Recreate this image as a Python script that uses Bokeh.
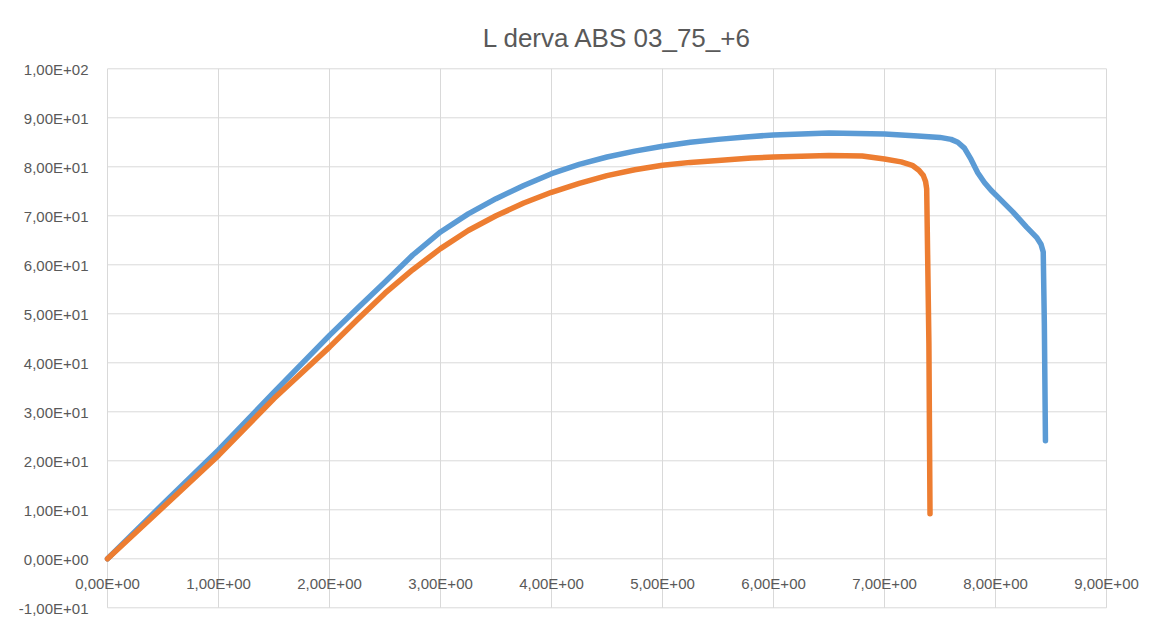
from bokeh.plotting import figure
from bokeh.models import Range1d, LabelSet, Label, ColumnDataSource
from bokeh.core.properties import value
from bokeh.embed import file_html
from bokeh.resources import INLINE

# ---- data ----
blue_x = [0.0, 0.5, 1.0, 1.5, 2.0, 2.25, 2.5, 2.75, 3.0, 3.25, 3.5, 3.75, 4.0, 4.25, 4.5,
          4.75, 5.0, 5.25, 5.5, 5.75, 6.0, 6.5, 7.0, 7.3, 7.5, 7.6, 7.66, 7.72, 7.78,
          7.84, 7.9, 7.96, 8.05, 8.16, 8.28, 8.37, 8.41, 8.43, 8.44, 8.45]
blue_y = [0.0, 11.2, 22.2, 34.0, 45.6, 51.1, 56.5, 62.0, 66.7, 70.4, 73.5, 76.2, 78.6, 80.5, 82.0,
          83.2, 84.2, 85.0, 85.6, 86.1, 86.5, 86.9, 86.7, 86.3, 86.0, 85.6, 85.0, 83.8, 81.5,
          78.8, 76.8, 75.2, 73.2, 70.7, 67.7, 65.6, 64.2, 62.6, 48.0, 24.1]

orange_x = [0.0, 0.5, 1.0, 1.5, 2.0, 2.25, 2.5, 2.75, 3.0, 3.25, 3.5, 3.75, 4.0, 4.25, 4.5, 4.75,
            5.0, 5.25, 5.5, 5.8, 6.0, 6.5, 6.8, 7.0, 7.15, 7.25, 7.31, 7.35, 7.37, 7.38,
            7.40, 7.41]
orange_y = [0.0, 10.5, 21.1, 32.7, 43.2, 48.8, 54.2, 59.0, 63.3, 67.0, 70.0, 72.6, 74.8, 76.6, 78.2, 79.4,
            80.3, 80.9, 81.3, 81.8, 82.0, 82.3, 82.2, 81.6, 81.0, 80.3, 79.3, 78.2, 77.0, 75.5,
            44.0, 9.2]

x_ticks = [0, 1, 2, 3, 4, 5, 6, 7, 8, 9]
y_ticks = [-10, 0, 10, 20, 30, 40, 50, 60, 70, 80, 90, 100]
title_text = "L derva ABS 03_75_+6"

BLUE = "#5B9BD5"
ORANGE = "#ED7D31"
GRID = "#D9D9D9"
TEXT = "#595959"
FONT = "Liberation Sans"
TICK_SIZE = "15px"

W, H = 1157, 619
# plot-area placement inside the canvas (pixels)
PX_LEFT, PX_RIGHT, PX_TOP, PX_BOTTOM = 107.0, 1106.0, 68.3, 607.3


def excel_sci(v):
    return "{:.2E}".format(v).replace(".", ",")


# the frame covers the whole canvas so that labels hanging past the plot area are not clipped
sx = (PX_RIGHT - PX_LEFT) / (x_ticks[-1] - x_ticks[0])
sy = (PX_BOTTOM - PX_TOP) / (y_ticks[-1] - y_ticks[0])
x_range = Range1d(x_ticks[0] - PX_LEFT / sx, x_ticks[-1] + (W - PX_RIGHT) / sx)
y_range = Range1d(y_ticks[0] - (H - PX_BOTTOM) / sy, y_ticks[-1] + PX_TOP / sy)

p = figure(width=W, height=H, output_backend="svg", toolbar_location=None,
           x_range=x_range, y_range=y_range,
           min_border=0, min_border_left=0, min_border_right=0,
           min_border_top=0, min_border_bottom=0)

p.outline_line_color = None
p.background_fill_color = "white"
p.border_fill_color = "white"
p.xaxis.visible = False
p.yaxis.visible = False
p.grid.visible = False

# gridlines limited to the plot area
n_x, n_y = len(x_ticks), len(y_ticks)
p.segment(x0=x_ticks, x1=x_ticks, y0=[y_ticks[0]] * n_x, y1=[y_ticks[-1]] * n_x,
          line_color=GRID, line_width=1)
p.segment(x0=[x_ticks[0]] * n_y, x1=[x_ticks[-1]] * n_y, y0=y_ticks, y1=y_ticks,
          line_color=GRID, line_width=1)

p.line(blue_x, blue_y, line_color=BLUE, line_width=5.5, line_join="round", line_cap="round")
p.line(orange_x, orange_y, line_color=ORANGE, line_width=5.5, line_join="round", line_cap="round")

# x tick labels under the y = 0 line (the horizontal axis crosses at zero)
xl_src = ColumnDataSource(dict(x=x_ticks, y=[0] * n_x,
                               text=[excel_sci(v) for v in x_ticks]))
p.add_layout(LabelSet(x="x", y="y", text="text", source=xl_src, text_align="center",
                      text_baseline="alphabetic", y_offset=-30, text_font=value(FONT),
                      text_font_size=value(TICK_SIZE), text_color=value(TEXT)))

# y tick labels left of the plot area
yl_src = ColumnDataSource(dict(x=[x_ticks[0]] * n_y, y=y_ticks,
                               text=[excel_sci(v) for v in y_ticks]))
p.add_layout(LabelSet(x="x", y="y", text="text", source=yl_src, text_align="right",
                      text_baseline="alphabetic", x_offset=-19, y_offset=-6,
                      text_font=value(FONT), text_font_size=value(TICK_SIZE),
                      text_color=value(TEXT)))

# chart title
p.add_layout(Label(x=617, y=H - 37.3, x_units="screen", y_units="screen", text=title_text,
                   text_align="center", text_baseline="alphabetic", text_font=FONT,
                   text_font_size="26px", text_color=TEXT))

open("out.html", "w").write(file_html(p, INLINE))
